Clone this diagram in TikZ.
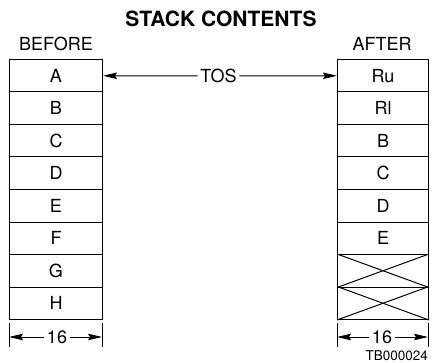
\documentclass[tikz,border=0pt]{standalone}
\usepackage{fontspec}
\setmainfont{TeX Gyre Heros}
\usetikzlibrary{arrows.meta}
\begin{document}
\begin{tikzpicture}[x=1pt,y=-1pt,
  cell/.style={draw,line width=1pt,minimum height=32.5pt,inner sep=0pt,anchor=north west,font=\fontsize{18}{18}\selectfont},
  lbl/.style={font=\fontsize{18}{18}\selectfont,inner sep=2.5pt},
  tip/.style={-{Stealth[length=14pt,width=6.5pt,inset=2pt]},line width=1pt},
  tick/.style={line width=1pt}]
\useasboundingbox (0,0) rectangle (438,363);
\node[font=\bfseries\fontsize{21}{21}\selectfont] (title) at (221,18.5) {STACK CONTENTS};
\node[lbl] (before) at (56,44) {BEFORE};
\node[lbl] (after) at (382,44) {AFTER};
% left stack
\foreach \t [count=\i from 0] in {A,B,C,D,E,F,G,H}
  \node[cell,minimum width=93pt] (L\i) at (9,59+32.5*\i) {\t};
% right stack
\foreach \t [count=\i from 0] in {Ru,Rl,B,C,D,E,{},{}}
  \node[cell,minimum width=91pt] (R\i) at (337,59+32.5*\i) {\t};
\foreach \i in {6,7}{
  \draw[line width=1pt] (R\i.north west) -- (R\i.south east);
  \draw[line width=1pt] (R\i.south west) -- (R\i.north east);
}
% TOS
\node[lbl] (tos) at (218.5,76) {TOS};
\draw[tip] (tos.west) -- (L0.east);
\draw[tip] (tos.east) -- (R0.west);
% dimensions
\coordinate (la) at (9,323); \coordinate (lb) at (9,347);
\coordinate (lc) at (102,323); \coordinate (ld) at (102,347);
\draw[tick] (la) -- (lb); \draw[tick] (lc) -- (ld);
\node[lbl] (d1) at (57,337) {16};
\draw[tip] (d1.west) -- (9,337);
\draw[tip] (d1.east) -- (102,337);
\coordinate (ra) at (337,323); \coordinate (rb) at (337,347);
\coordinate (rc) at (428,323); \coordinate (rd) at (428,347);
\draw[tick] (ra) -- (rb); \draw[tick] (rc) -- (rd);
\node[lbl] (d2) at (382,337) {16};
\draw[tip] (d2.west) -- (337,337);
\draw[tip] (d2.east) -- (428,337);
\node[font=\fontsize{13.5}{13.5}\selectfont,inner sep=0pt,anchor=east] (tb) at (428,355.5) {TB000024};
\end{tikzpicture}
\end{document}
